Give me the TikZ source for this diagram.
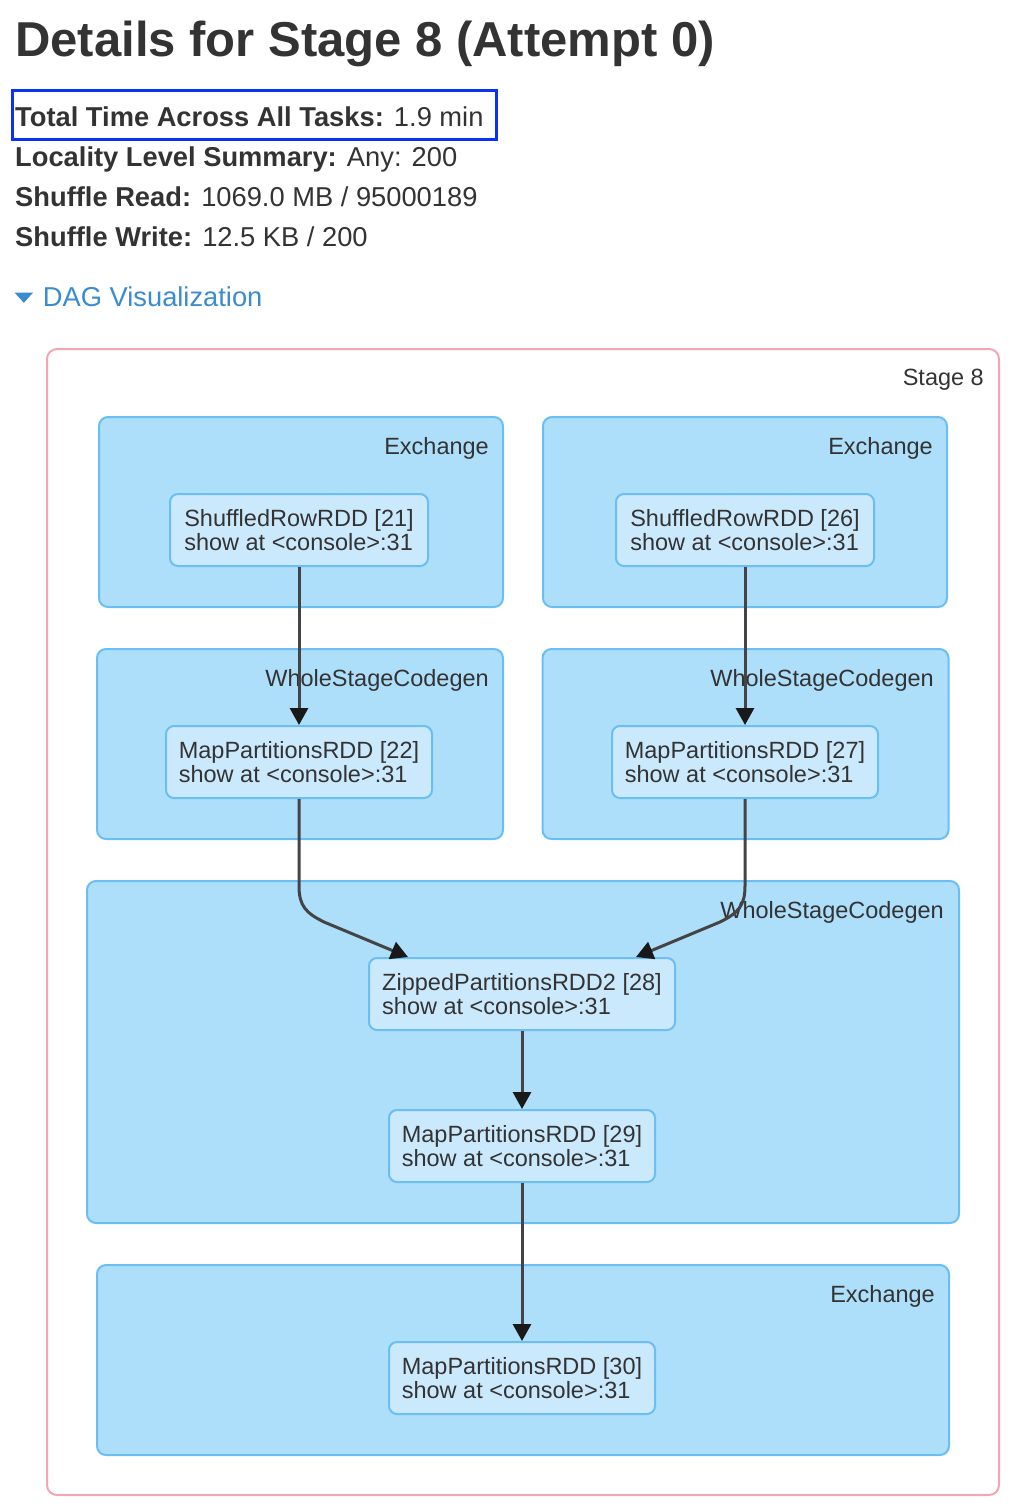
\documentclass[tikz,border=0pt]{standalone}
\usepackage{fontspec}
\setmainfont{Liberation Sans}
\usetikzlibrary{arrows.meta,calc}
\definecolor{txt}{HTML}{333333}
\definecolor{linkblue}{HTML}{3B8BCF}
\definecolor{hlblue}{HTML}{0A32F5}
\definecolor{stagepink}{HTML}{F2A6B2}
\definecolor{clfill}{HTML}{ADDEFA}
\definecolor{cldraw}{HTML}{6BBEF4}
\definecolor{ndfill}{HTML}{CBE9FC}
\definecolor{edgecol}{HTML}{444444}
\begin{document}
\begin{tikzpicture}[x=1pt,y=-1pt,
 txtline/.style={anchor=base west, inner sep=0, text=txt, font=\fontsize{27.3}{32}\selectfont},
 cluster/.style={draw=cldraw, fill=clfill, line width=2pt, rounded corners=9pt, anchor=north west, inner sep=0},
 cllabel/.style={anchor=base east, inner sep=0, text=txt, font=\fontsize{23.5}{24}\selectfont},
 rdd/.style={draw=cldraw, fill=ndfill, line width=2pt, rounded corners=8pt, minimum height=72pt, align=left, text=txt, font=\fontsize{23.5}{24}\selectfont, inner sep=0},
 edge/.style={draw=edgecol, line width=3pt, -{Triangle[length=17pt,width=18pt,color=black!90]}}
]
\useasboundingbox (0,0) rectangle (1022,1508);

% header
\node[anchor=base west, inner sep=0, text=txt, font=\fontsize{49}{49}\selectfont\bfseries] (title) at (15,56) {Details for Stage 8 (Attempt 0)};
\node[draw=hlblue, line width=2.8pt, minimum width=484pt, minimum height=49pt, anchor=north west, inner sep=0] (hl) at (11,89.3) {};
\node[txtline] (ttime) at (15,126) {\textbf{Total Time Across All Tasks:} 1.9 min};
\node[txtline] (loc) at (15,166) {\textbf{Locality Level Summary:} Any: 200};
\node[txtline] (sread) at (15,206) {\textbf{Shuffle Read:} 1069.0 MB / 95000189};
\node[txtline] (swrite) at (15,246) {\textbf{Shuffle Write:} 12.5 KB / 200};
\fill[linkblue] (14.5,292.5) -- (33.2,292.5) -- (23.8,302.8) -- cycle;
\node[txtline, text=linkblue] (dag) at (42.7,306) {DAG Visualization};

% stage frame
\node[draw=stagepink, line width=2pt, rounded corners=10pt, minimum width=952pt, minimum height=1146pt, anchor=north west, inner sep=0] (stage) at (46,348) {};
\node[cllabel] (lstage) at (984,385) {Stage 8};

% clusters
\node[cluster, minimum width=404pt, minimum height=190pt] (ex1) at (98,416) {};
\node[cluster, minimum width=404pt, minimum height=190pt] (ex2) at (542,416) {};
\node[cluster, minimum width=406pt, minimum height=190pt] (wsc1) at (96,648) {};
\node[cluster, minimum width=406pt, minimum height=190pt] (wsc2) at (541.5,648) {};
\node[cluster, minimum width=872pt, minimum height=342pt] (wsc3) at (86,880) {};
\node[cluster, minimum width=852pt, minimum height=190pt] (ex3) at (96,1264) {};

\node[cllabel] (lex1) at (489,454) {Exchange};
\node[cllabel] (lex2) at (933,454) {Exchange};
\node[cllabel] (lwsc1) at (489,686) {WholeStageCodegen};
\node[cllabel] (lwsc2) at (934,686) {WholeStageCodegen};
\node[cllabel] (lwsc3) at (944,918) {WholeStageCodegen};
\node[cllabel] (lex3) at (935,1302) {Exchange};

% RDD nodes
\node[rdd, minimum width=258pt] (n21) at (299,530) {ShuffledRowRDD [21]\\show at <console>:31};
\node[rdd, minimum width=258pt] (n26) at (745,530) {ShuffledRowRDD [26]\\show at <console>:31};
\node[rdd, minimum width=266pt] (n22) at (299,762) {MapPartitionsRDD [22]\\show at <console>:31};
\node[rdd, minimum width=266pt] (n27) at (745,762) {MapPartitionsRDD [27]\\show at <console>:31};
\node[rdd, minimum width=306pt] (n28) at (522,994) {ZippedPartitionsRDD2 [28]\\show at <console>:31};
\node[rdd, minimum width=266pt] (n29) at (522,1146) {MapPartitionsRDD [29]\\show at <console>:31};
\node[rdd, minimum width=266pt] (n30) at (522,1378) {MapPartitionsRDD [30]\\show at <console>:31};

% edges
\draw[edge] (n21.south) -- (n22.north);
\draw[edge] (n26.south) -- (n27.north);
\draw[edge] (n22.south) -- ($(n22.south)+(0,87)$) .. controls +(0,20) and +(-18,-9) .. ($(n22.south)+(25,123)$) -- ($(n28.north)+(-114,0)$);
\draw[edge] (n27.south) -- ($(n27.south)+(0,87)$) .. controls +(0,20) and +(18,-9) .. ($(n27.south)+(-25,123)$) -- ($(n28.north)+(114,0)$);
\draw[edge] (n28.south) -- (n29.north);
\draw[edge] (n29.south) -- (n30.north);
\end{tikzpicture}
\end{document}
